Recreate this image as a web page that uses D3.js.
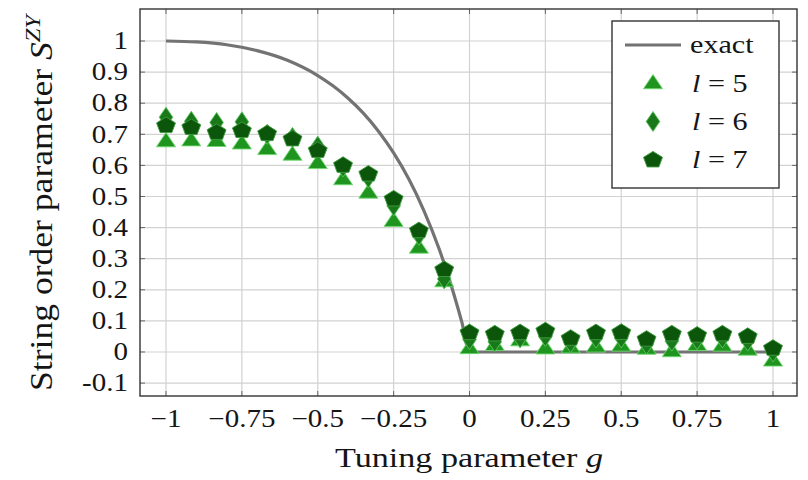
<!DOCTYPE html>
<html><head><meta charset="utf-8">
<script src="https://cdn.jsdelivr.net/npm/d3@7"></script>
<style>
body{margin:0;background:#fff}
svg{display:block}
svg text{font-family:'Liberation Serif','DejaVu Serif',serif;fill:#151515}
</style>
</head><body>
<svg id="c" width="808" height="480"></svg>
<script>
// ---- data ----
const gValues = [-1, -0.9167, -0.8333, -0.75, -0.6667, -0.5833, -0.5, -0.4167, -0.3333, -0.25, -0.1667, -0.0833,
                 0, 0.0833, 0.1667, 0.25, 0.3333, 0.4167, 0.5, 0.5833, 0.6667, 0.75, 0.8333, 0.9167, 1];
const l5 = [0.675, 0.678, 0.676, 0.668, 0.650, 0.632, 0.605, 0.553, 0.510, 0.419, 0.333, 0.225,
            0.010, 0.020, 0.035, 0.009, 0.012, 0.015, 0.018, 0.008, 0.000, 0.020, 0.018, 0.005, -0.030];
const l6 = [0.755, 0.742, 0.738, 0.740, 0.700, 0.690, 0.662, 0.595, 0.560, 0.470, 0.375, 0.235,
            0.040, 0.033, 0.045, 0.050, 0.030, 0.045, 0.045, 0.025, 0.035, 0.040, 0.045, 0.035, 0.000];
const l7 = [0.728, 0.722, 0.706, 0.712, 0.702, 0.685, 0.648, 0.600, 0.572, 0.492, 0.390, 0.265,
            0.062, 0.058, 0.062, 0.068, 0.044, 0.062, 0.063, 0.041, 0.058, 0.054, 0.058, 0.050, 0.012];
const exactG = [-1, -0.9, -0.8, -0.7, -0.6, -0.5, -0.45, -0.4, -0.35, -0.3, -0.25, -0.2, -0.15, -0.1, -0.075, -0.05, -0.025, 0, 1];
const exactS = [1, 0.997, 0.988, 0.969, 0.938, 0.889, 0.856, 0.816, 0.768, 0.71, 0.64, 0.556, 0.454, 0.331, 0.26, 0.181, 0.095, 0, 0];
const xTicks = [-1, -0.75, -0.5, -0.25, 0, 0.25, 0.5, 0.75, 1];
const xTickLabels = ["\u22121", "\u22120.75", "\u22120.5", "\u22120.25", "0", "0.25", "0.5", "0.75", "1"];
const yTicks = [-0.1, 0, 0.1, 0.2, 0.3, 0.4, 0.5, 0.6, 0.7, 0.8, 0.9, 1];
const yTickLabels = ["-0.1", "0", "0.1", "0.2", "0.3", "0.4", "0.5", "0.6", "0.7", "0.8", "0.9", "1"];
const seriesNames = ["5", "6", "7"];

// ---- layout ----
const FONT = "'Liberation Serif','DejaVu Serif',serif";
const svg = d3.select("#c");
const L = 140, R = 797, T = 9, B = 396;
const x = d3.scaleLinear().domain([-1.0857, 1.0791]).range([L, R]);
const y = d3.scaleLinear().domain([-0.1415, 1.1029]).range([B, T]);
const SX = 1.16; // horizontal stretch of the reference

// grid
const grid = svg.append("g").attr("stroke", "#d2d2d2").attr("stroke-width", 1.2);
grid.selectAll(".gx").data(xTicks).join("line")
  .attr("x1", d => x(d)).attr("x2", d => x(d)).attr("y1", T).attr("y2", B);
grid.selectAll(".gy").data(yTicks).join("line")
  .attr("y1", d => y(d)).attr("y2", d => y(d)).attr("x1", L).attr("x2", R);

// tick marks
const tk = svg.append("g").attr("stroke", "#666").attr("stroke-width", 1);
xTicks.forEach(d => {
  tk.append("line").attr("x1", x(d)).attr("x2", x(d)).attr("y1", B).attr("y2", B - 5);
  tk.append("line").attr("x1", x(d)).attr("x2", x(d)).attr("y1", T).attr("y2", T + 5);
});
yTicks.forEach(d => {
  tk.append("line").attr("y1", y(d)).attr("y2", y(d)).attr("x1", L).attr("x2", L + 5);
  tk.append("line").attr("y1", y(d)).attr("y2", y(d)).attr("x1", R).attr("x2", R - 5);
});

// exact curve
const exactData = exactG.map((g, i) => [g, exactS[i]]);
svg.append("path").datum(exactData)
  .attr("fill", "none").attr("stroke", "#737373").attr("stroke-width", 3.2)
  .attr("stroke-linejoin", "round")
  .attr("d", d3.line().x(d => x(d[0])).y(d => y(d[1])).curve(d3.curveMonotoneX));

// marker shapes
function triPath(r) {
  const a = r * Math.sin(Math.PI / 3) * SX;
  return `M0,${-r}L${a},${r / 2}L${-a},${r / 2}Z`;
}
function diaPath(w, h) {
  return `M0,${-h}L${w},0L0,${h}L${-w},0Z`;
}
function pentPath(r) {
  const pts = d3.range(5).map(k => {
    const an = -Math.PI / 2 + k * 2 * Math.PI / 5;
    return [r * Math.cos(an) * SX, r * Math.sin(an)];
  });
  return "M" + pts.map(p => p.join(",")).join("L") + "Z";
}
const styles = [
  {vals: l5, path: triPath(9.5), fill: "#1f951f", stroke: "#6fd86f"},
  {vals: l6, path: diaPath(6.8, 10), fill: "#18781a", stroke: "#59c45b"},
  {vals: l7, path: pentPath(8.6), fill: "#0b560b", stroke: "#3f9c3f"}
];
styles.forEach(s => {
  svg.append("g").selectAll("path").data(gValues.map((g, i) => [g, s.vals[i]])).join("path")
    .attr("d", s.path)
    .attr("transform", d => `translate(${x(d[0])},${y(d[1])})`)
    .attr("fill", s.fill).attr("stroke", s.stroke).attr("stroke-width", 0.9)
    .attr("stroke-linejoin", "round");
});

// frame
svg.append("rect").attr("x", L).attr("y", T).attr("width", R - L).attr("height", B - T)
  .attr("fill", "none").attr("stroke", "#333").attr("stroke-width", 1.4);

// tick labels
svg.append("g").selectAll("text").data(xTicks).join("text")
  .attr("transform", d => `translate(${x(d)},427) scale(${SX},1)`)
  .attr("text-anchor", "middle").attr("font-size", 25).style("font-family", FONT)
  .text((d, i) => xTickLabels[i]);
svg.append("g").selectAll("text").data(yTicks).join("text")
  .attr("transform", d => `translate(128,${y(d) + 8.3}) scale(${SX},1)`)
  .attr("text-anchor", "end").attr("font-size", 25).style("font-family", FONT)
  .text((d, i) => yTickLabels[i]);

// axis labels
const xl = svg.append("text")
  .attr("x", 469).attr("y", 467).attr("text-anchor", "middle").attr("font-size", 27)
  .style("font-family", FONT)
  .attr("textLength", 268).attr("lengthAdjust", "spacingAndGlyphs");
xl.append("tspan").text("Tuning parameter ");
xl.append("tspan").attr("font-style", "italic").text("g");

const yl = svg.append("text")
  .attr("transform", "translate(52,203) rotate(-90) scale(1,1.1)")
  .attr("text-anchor", "middle").attr("font-size", 29).style("font-family", FONT)
  .attr("textLength", 376).attr("lengthAdjust", "spacingAndGlyphs");
yl.append("tspan").text("String order parameter ");
yl.append("tspan").attr("font-style", "italic").text("S");
yl.append("tspan").attr("font-style", "italic").attr("font-size", 20).attr("dy", -11).text("ZY");

// legend
const lg = svg.append("g");
lg.append("rect").attr("x", 612).attr("y", 21).attr("width", 167).attr("height", 167)
  .attr("fill", "#fff").attr("stroke", "#333").attr("stroke-width", 1.4);
lg.append("line").attr("x1", 625).attr("x2", 681).attr("y1", 45).attr("y2", 45)
  .attr("stroke", "#737373").attr("stroke-width", 3.2);
lg.append("text").attr("transform", `translate(690,53) scale(${SX},1)`).attr("font-size", 26)
  .style("font-family", FONT).text("exact");
const legY = [84, 121.5, 160];
styles.forEach((s, i) => {
  lg.append("path").attr("d", s.path).attr("transform", `translate(653,${legY[i]})`)
    .attr("fill", s.fill).attr("stroke", s.stroke).attr("stroke-width", 0.9);
  const t = lg.append("text").attr("transform", `translate(692,${legY[i] + 8}) scale(${SX},1)`)
    .attr("font-size", 26).style("font-family", FONT);
  t.append("tspan").attr("font-style", "italic").text("l");
  t.append("tspan").text(" = " + seriesNames[i]);
});
</script>
</body></html>
